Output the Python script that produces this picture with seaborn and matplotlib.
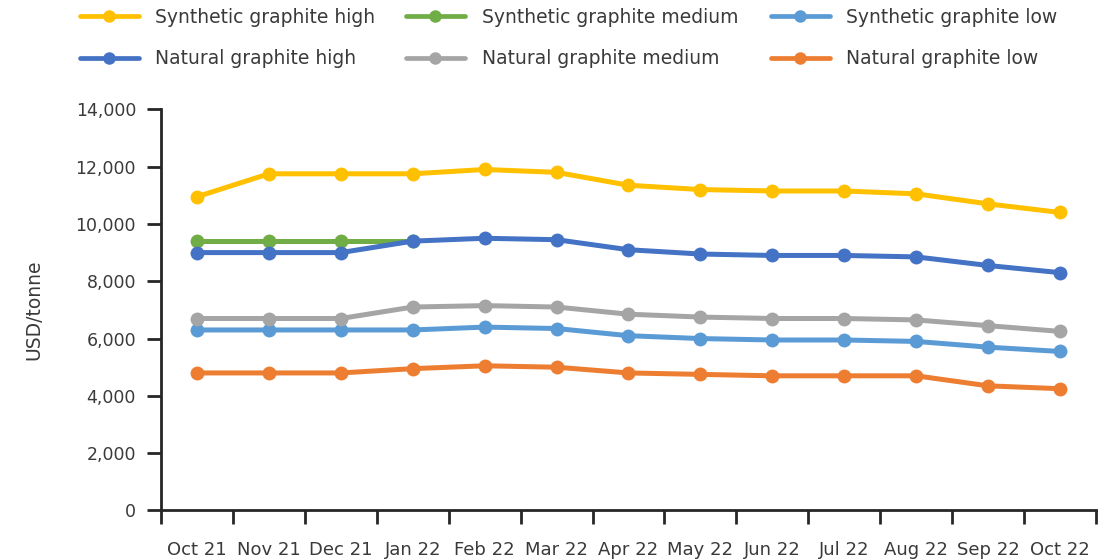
import numpy as np
import pandas as pd
import matplotlib
matplotlib.use("Agg")
import matplotlib.pyplot as plt
import seaborn as sns
from matplotlib.lines import Line2D

months = ["Oct 21", "Nov 21", "Dec 21", "Jan 22", "Feb 22", "Mar 22", "Apr 22",
          "May 22", "Jun 22", "Jul 22", "Aug 22", "Sep 22", "Oct 22"]

synthetic_high = [10950, 11750, 11750, 11750, 11900, 11800, 11350,
                  11200, 11150, 11150, 11050, 10700, 10400]
synthetic_medium = [9400, 9400, 9400, 9400, np.nan, np.nan, np.nan,
                    np.nan, np.nan, np.nan, np.nan, np.nan, np.nan]
synthetic_low = [6300, 6300, 6300, 6300, 6400, 6350, 6100,
                 6000, 5950, 5950, 5900, 5700, 5550]
natural_high = [9000, 9000, 9000, 9400, 9500, 9450, 9100,
                8950, 8900, 8900, 8850, 8550, 8300]
natural_medium = [6700, 6700, 6700, 7100, 7150, 7100, 6850,
                  6750, 6700, 6700, 6650, 6450, 6250]
natural_low = [4800, 4800, 4800, 4950, 5050, 5000, 4800,
               4750, 4700, 4700, 4700, 4350, 4250]

series_names = ["Synthetic graphite high", "Synthetic graphite medium",
                "Synthetic graphite low", "Natural graphite high",
                "Natural graphite medium", "Natural graphite low"]
series_values = [synthetic_high, synthetic_medium, synthetic_low,
                 natural_high, natural_medium, natural_low]
colors = ["#FFC000", "#70AD47", "#5B9BD5", "#4472C4", "#A5A5A5", "#ED7D31"]

sns.set_theme(style="white")
plt.rcParams["font.family"] = ["DejaVu Sans"]
text_color = "#3a3a3a"
axis_color = "#262626"

frames = []
for name, vals in zip(series_names, series_values):
    frames.append(pd.DataFrame({"month": months, "value": vals, "series": name}))
df = pd.concat(frames, ignore_index=True).dropna()
df["pos"] = df["month"].map({m: i for i, m in enumerate(months)})

fig = plt.figure(figsize=(11.19, 5.6), dpi=100)
ax = fig.add_axes([0.1439, 0.0884, 0.9794 - 0.1439, 0.8048 - 0.0884])

palette = dict(zip(series_names, colors))
for name in series_names:
    sub = df[df["series"] == name]
    sns.lineplot(data=sub, x="pos", y="value", color=palette[name], ax=ax,
                 linewidth=3.6, marker="o", markersize=10, markeredgewidth=0,
                 legend=False, zorder=3)

ax.set_xlim(-0.5, len(months) - 0.5)
ax.set_ylim(0, 14000)
ax.set_yticks(np.arange(0, 14001, 2000))
ax.set_yticklabels([f"{v:,}" for v in range(0, 14001, 2000)])

# tick marks sit between months; month names are centred under each point
ax.set_xticks(np.arange(-0.5, len(months), 1.0))
ax.set_xticklabels([""] * (len(months) + 1))
ax.set_xticks(range(len(months)), minor=True)
ax.set_xticklabels(months, minor=True)
ax.tick_params(axis="x", which="major", length=10, width=2, color=axis_color,
               direction="out", bottom=True)
ax.tick_params(axis="x", which="minor", length=0, pad=22, labelsize=13,
               labelcolor=text_color, bottom=True, labelbottom=True)
ax.tick_params(axis="y", which="major", length=10, width=2, color=axis_color,
               direction="out", pad=8, labelsize=12.5, labelcolor=text_color,
               left=True)
ax.set_xlabel("")
ax.set_ylabel("USD/tonne", fontsize=13.5, color=text_color, labelpad=23)

for side in ["top", "right"]:
    ax.spines[side].set_visible(False)
for side in ["left", "bottom"]:
    ax.spines[side].set_color(axis_color)
    ax.spines[side].set_linewidth(2)
ax.grid(False)

handles = [Line2D([0], [0], color=c, linewidth=3.4, marker="o", markersize=9,
                  markeredgewidth=0) for c in colors]
# one legend column per grade: high, medium, low
columns = [(0, 3, 0.0560), (1, 4, 0.3475), (2, 5, 0.6735)]
for top, bottom, x0 in columns:
    fig.legend([handles[top], handles[bottom]],
               [series_names[top], series_names[bottom]],
               ncol=1, loc="upper left", bbox_to_anchor=(x0, 1.016),
               frameon=False, fontsize=13.5, handlelength=3.15,
               handletextpad=0.9, labelspacing=1.2, labelcolor=text_color)

fig.savefig("out.png", dpi=100, facecolor="white")
